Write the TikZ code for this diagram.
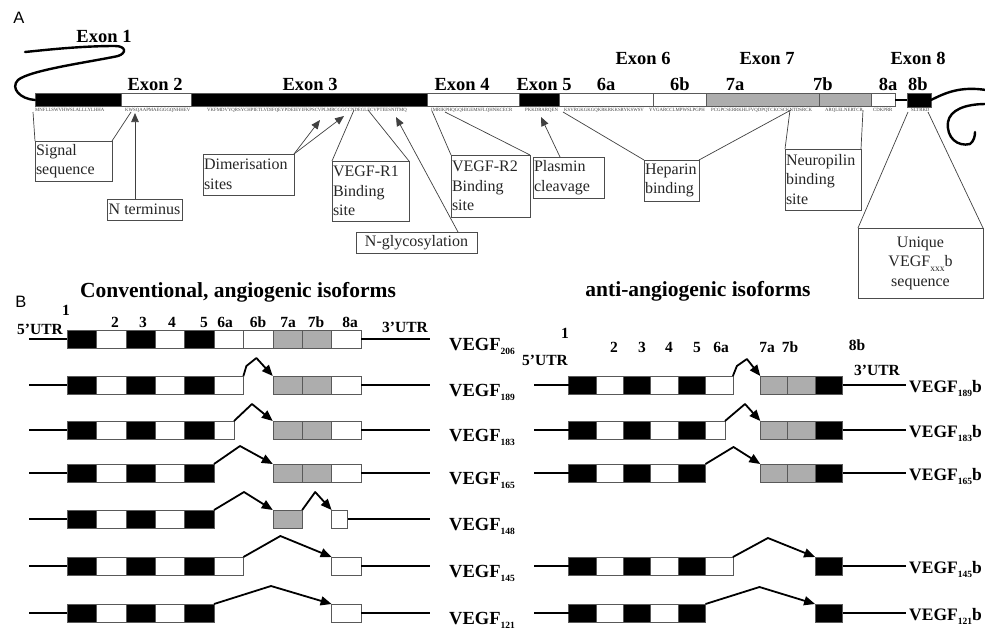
\documentclass[tikz,border=0pt]{standalone}
\usepackage{fontspec}
\setmainfont{Liberation Serif}
\newfontfamily\panelfont{Liberation Sans}
\usepackage{tikz}
\usetikzlibrary{arrows.meta,positioning}
\newcommand{\isub}[1]{\raisebox{-4.5pt}{\fontsize{9.5}{9.5}\selectfont #1}}

\begin{document}
\begin{tikzpicture}[
    x=1pt, y=-1pt,
    exbox/.style={draw=black!65, line width=0.6pt, inner sep=0pt, outer sep=0pt, minimum height=18pt},
    blk/.style={exbox, fill=black},
    wht/.style={exbox, fill=white},
    gry/.style={exbox, fill=black!32},
    utr/.style={line width=2.6pt},
    splice/.style={line width=1.8pt, line join=round, -{Triangle[length=11pt,width=9pt]}},
    seq/.style={font=\fontsize{4.8}{5}\selectfont, text=black!75, inner sep=0pt, anchor=west},
    exlab/.style={font=\fontsize{18.5}{20}\selectfont\bfseries, anchor=base, inner sep=0pt},
    numlab/.style={font=\fontsize{15.5}{16}\selectfont\bfseries, anchor=base, inner sep=0pt},
    isolab/.style={font=\fontsize{18.5}{19}\selectfont\bfseries, anchor=base west, inner sep=0pt},
    head/.style={font=\fontsize{21.5}{23}\selectfont\bfseries, anchor=base, inner sep=0pt},
    callout/.style={draw=black!70, line width=0.7pt, align=left, anchor=north west, inner sep=1pt, outer sep=0pt, font=\fontsize{16}{19.5}\selectfont, text=black!85},
    funnel/.style={draw=black!75, line width=0.7pt},
    pointer/.style={funnel, -{Triangle[length=9pt,width=7.5pt]}},
    tail/.style={line width=2.4pt, line cap=round}
]
\useasboundingbox (0,0) rectangle (985,633);

% panel letters
\node[font=\panelfont\fontsize{16.5}{17}\selectfont] (pa) at (19,18) {A};
\node[font=\panelfont\fontsize{16.5}{17}\selectfont] (pb) at (21,302) {B};

% ---------------- A: exon map ----------------
\foreach \n/\a/\b/\s in {1/35/121/blk, 2/121/191/wht, 3/191/427/blk, 4/427/519/wht, 5/519/559/blk, 6a/559/653/wht, 6b/653/706/wht, 7a/706/819/gry, 7b/819/871/gry, 8a/871/895/wht}
  \node[\s, minimum width={(\b-\a)*1pt}, minimum height=13pt, anchor=west] (e\n) at (\a,100) {};
\node[blk, minimum width=24pt, minimum height=14pt, anchor=west] (e8b) at (907,100) {};
\draw[line width=2pt] (e8a.east) -- (e8b.west);

% loose ends of the transcript
\draw[tail] (e1.west) .. controls (20,99) and (10,88) .. (18,80) .. controls (30,70) and (90,62) .. (118,56) .. controls (127,53) and (126,46) .. (115,46) .. controls (80,46) and (45,50) .. (25,52);
\draw[tail] (e8b.east) .. controls (945,93) and (960,86) .. (986,90);
\draw[tail] (986,104) .. controls (965,104) and (950,110) .. (948,122) .. controls (946,138) and (958,147) .. (970,144) .. controls (974,141) and (975,136) .. (975,132);

% exon names
\node[exlab] (x1) at (104,42) {Exon 1};
\node[exlab] (x2) at (155,90) {Exon 2};
\node[exlab] (x3) at (310,90) {Exon 3};
\node[exlab] (x4) at (462,90) {Exon 4};
\node[exlab] (x5) at (544,90) {Exon 5};
\node[exlab] (x6) at (643,64) {Exon 6};
\node[exlab] (x7) at (767,64) {Exon 7};
\node[exlab] (x8) at (918,64) {Exon 8};
\foreach \t/\x in {6a/606, 6b/680, 7a/735, 7b/823, 8a/888, 8b/918}
  \node[exlab] (x\t) at (\x,90) {\t};

% peptide sequences
\node[seq] (s1) at (35,110) {MNFLLSWVHWSLALLLYLHHA};
\node[seq] (s2) at (125,110) {KWSQAAPMAEGGGQNHHEV};
\node[seq] (s3) at (207,110) {VKFMDVYQRSYCHPIETLVDIFQEYPDEIEYIFKPSCVPLMRCGGCCNDEGLECVPTEESNITMQ};
\node[seq] (s4) at (431,110) {IMRIKPHQGQHIGEMSFLQHNKCECR};
\node[seq] (s5) at (525,110) {PKKDRARQEN};
\node[seq] (s6a) at (564,110) {KSVRGKGKGQKRKRKKSRYKSWSV};
\node[seq] (s6b) at (649,110) {YVGARCCLMPWSLPGPH};
\node[seq] (s7a) at (711,110) {PCGPCSERRKHLFVQDPQTCKCSCKNTDSRCK};
\node[seq] (s7b) at (825,110) {ARQLELNERTCR};
\node[seq] (s8a) at (873,110) {CDKPRR};
\node[seq] (s8b) at (911,110) {SLTRKD};

% annotation boxes
\node[callout, text width=75pt, minimum height=40pt] (signal) at (35,141) {Signal\\sequence};
\node[callout, minimum width=75pt, minimum height=21pt] (nterm) at (107,199) {N terminus};
\node[callout, text width=89pt, minimum height=41pt] (dimer) at (203,154) {Dimerisation\\sites};
\node[callout, text width=75pt, minimum height=60pt] (rone) at (332,161) {VEGF-R1\\Binding\\site};
\node[callout, minimum width=121pt, minimum height=21pt] (glyco) at (356,232) {N-glycosylation};
\node[callout, text width=77pt, minimum height=62pt] (rtwo) at (451,155) {VEGF-R2\\Binding\\site};
\node[callout, text width=69pt, minimum height=41pt] (plasmin) at (533,157) {Plasmin\\cleavage};
\node[callout, text width=53pt, minimum height=41pt] (heparin) at (644,160) {Heparin\\binding};
\node[callout, text width=74pt, minimum height=61pt] (neuro) at (785,149) {Neuropilin\\binding\\site};
\node[callout, align=center, text width=123pt, minimum height=70pt] (unique) at (858,228) {Unique\\VEGF\isub{xxx}b\\sequence};

% points on the sequence
\coordinate (sigL) at (33,112);
\coordinate (sigR) at (131,112);
\coordinate (ntip) at (135,113);
\coordinate (dimA) at (320,120);
\coordinate (dimB) at (344,116);
\coordinate (roneL) at (354,110);
\coordinate (roneR) at (368,110);
\coordinate (glytip) at (396,117);
\coordinate (rtwoL) at (432,111);
\coordinate (rtwoR) at (445,112);
\coordinate (plastip) at (541,117);
\coordinate (hepL) at (563,112);
\coordinate (hepR) at (791,110);
\coordinate (neuL) at (790,110);
\coordinate (neuR) at (863,110);
\coordinate (uniL) at (908,112);
\coordinate (uniR) at (928,112);

\draw[funnel] (signal.north west) -- (sigL);
\draw[funnel] (signal.north east) -- (sigR);
\draw[pointer] (nterm.north -| ntip) -- (ntip);
\draw[pointer] (dimer.north east) -- (dimA);
\draw[pointer] (dimer.north east) -- (dimB);
\draw[funnel] (rone.north west) -- (roneL);
\draw[funnel] (rone.north east) -- (roneR);
\draw[pointer] ([xshift=-19pt]glyco.north east) -- (glytip);
\draw[funnel] (rtwo.north west) -- (rtwoL);
\draw[funnel] (rtwo.north east) -- (rtwoR);
\draw[pointer] ([xshift=27pt]plasmin.north west) -- (plastip);
\draw[funnel] (heparin.north west) -- (hepL);
\draw[funnel] (heparin.north east) -- (hepR);
\draw[funnel] (neuro.north west) -- (neuL);
\draw[funnel] (neuro.north east) -- (neuR);
\draw[funnel] (unique.north west) -- (uniL);
\draw[funnel] (unique.north east) -- (uniR);

% ---------------- B: isoforms ----------------
\node[head] (conv) at (238,297) {Conventional, angiogenic isoforms};
\node[head] (anti) at (698,296) {anti-angiogenic isoforms};

% exon numbers, left
\node[numlab] (n1) at (66,315) {1};
\node[numlab] (nu5) at (40,334) {5’UTR};
\foreach \t/\x in {2/115, 3/143, 4/172, 5/204, 6a/225, 6b/258, 7a/288, 7b/316, 8a/350}
  \node[numlab] (n\t) at (\x,327) {\t};
\node[numlab] (nu3) at (405,332) {3’UTR};

% exon numbers, right
\node[numlab] (m1) at (565,338) {1};
\node[numlab] (mu5) at (545,365) {5’UTR};
\foreach \t/\x in {2/614, 3/642, 4/669, 5/697, 6a/721, 7a/767, 7b/790}
  \node[numlab] (m\t) at (\x,352) {\t};
\node[numlab] (m8b) at (857,350) {8b};
\node[numlab] (mu3) at (877,375) {3’UTR};

% conventional rows: exons 1-5, UTRs, names
\foreach \r/\y/\v in {a/339/206, b/385/189, c/430/183, d/473/165, e/519/148, f/566/145, g/613/121} {
  \foreach \p/\s in {1/blk, 2/wht, 3/blk, 4/wht, 5/blk}
    \node[\s, minimum width=29.4pt] (L\r\p) at ({67+29.4*(\p-0.5)},\y) {};
  \coordinate (u5\r) at (29,\y);
  \coordinate (u3\r) at (430,\y);
  \draw[utr] (u5\r) -- (L\r1.west);
  \node[isolab] (V\v) at (449,\y+11) {VEGF\isub{\v}};
}
% VEGF206
\foreach \p/\s in {6/wht, 7/wht, 8/gry, 9/gry, 10/wht}
  \node[\s, minimum width=29.4pt] (La\p) at ({67+29.4*(\p-0.5)},339) {};
% VEGF189
\foreach \p/\s in {6/wht, 8/gry, 9/gry, 10/wht}
  \node[\s, minimum width=29.4pt] (Lb\p) at ({67+29.4*(\p-0.5)},385) {};
\draw[splice] (Lb6.north east) -- ++(3,-10) -- ++(10,-8) -- (Lb8.north west);
% VEGF183
\node[wht, minimum width=20pt, right=0pt of Lc5] (Lc6) {};
\foreach \p/\s in {8/gry, 9/gry, 10/wht}
  \node[\s, minimum width=29.4pt] (Lc\p) at ({67+29.4*(\p-0.5)},430) {};
\draw[splice] (Lc6.north east) -- ++(18,-17) -- (Lc8.north west);
% VEGF165
\foreach \p/\s in {8/gry, 9/gry, 10/wht}
  \node[\s, minimum width=29.4pt] (Ld\p) at ({67+29.4*(\p-0.5)},473) {};
\draw[splice] (Ld5.north east) -- ++(26,-18) -- (Ld8.north west);
% VEGF148
\node[gry, minimum width=29.4pt] (Le8) at ({67+29.4*7.5},519) {};
\node[wht, minimum width=16pt, anchor=west] (Le10) at ({67+29.4*9},519) {};
\draw[splice] (Le5.north east) -- ++(30,-18) -- (Le8.north west);
\draw[splice] (Le8.north east) -- ++(13,-18) -- (Le10.north west);
% VEGF145
\foreach \p/\s in {6/wht, 10/wht}
  \node[\s, minimum width=29.4pt] (Lf\p) at ({67+29.4*(\p-0.5)},566) {};
\draw[splice] (Lf6.north east) -- ++(37,-21) -- (Lf10.north west);
% VEGF121
\node[wht, minimum width=29.4pt] (Lg10) at ({67+29.4*9.5},613) {};
\draw[splice] (Lg5.north east) -- ++(57,-18) -- (Lg10.north west);

\foreach \r in {a,b,c,d,e,f,g}
  \draw[utr] (L\r10.east) -- (u3\r);

% anti-angiogenic rows: exons 1-5 and 8b, UTRs, names
\foreach \r/\y/\v in {a/385/189, b/430/183, c/473/165, d/566/145, e/613/121} {
  \foreach \p/\s in {1/blk, 2/wht, 3/blk, 4/wht, 5/blk}
    \node[\s, minimum width=27.4pt] (R\r\p) at ({568.5+27.4*(\p-0.5)},\y) {};
  \node[blk, minimum width=27.4pt] (R\r10) at ({568.5+27.4*9.5},\y) {};
  \coordinate (w5\r) at (534,\y);
  \coordinate (w3\r) at (906,\y);
  \draw[utr] (w5\r) -- (R\r1.west);
  \draw[utr] (R\r10.east) -- (w3\r);
  \node[isolab, font=\fontsize{17.5}{18}\selectfont\bfseries] (V\v b) at (909,\y+7) {VEGF\isub{\v}b};
}
% VEGF189b
\foreach \p/\s in {6/wht, 8/gry, 9/gry}
  \node[\s, minimum width=27.4pt] (Ra\p) at ({568.5+27.4*(\p-0.5)},385) {};
\draw[splice] (Ra6.north east) -- ++(4,-10) -- ++(10,-7) -- (Ra8.north west);
% VEGF183b
\node[wht, minimum width=19.5pt, right=0pt of Rb5] (Rb6) {};
\foreach \p/\s in {8/gry, 9/gry}
  \node[\s, minimum width=27.4pt] (Rb\p) at ({568.5+27.4*(\p-0.5)},430) {};
\draw[splice] (Rb6.north east) -- ++(20,-17) -- (Rb8.north west);
% VEGF165b
\foreach \p/\s in {8/gry, 9/gry}
  \node[\s, minimum width=27.4pt] (Rc\p) at ({568.5+27.4*(\p-0.5)},473) {};
\draw[splice] (Rc5.north east) -- ++(28,-17) -- (Rc8.north west);
% VEGF145b
\node[wht, minimum width=27.4pt] (Rd6) at ({568.5+27.4*5.5},566) {};
\draw[splice] (Rd6.north east) -- ++(35,-19) -- (Rd10.north west);
% VEGF121b
\draw[splice] (Re5.north east) -- ++(54,-17) -- (Re10.north west);
\end{tikzpicture}
\end{document}
